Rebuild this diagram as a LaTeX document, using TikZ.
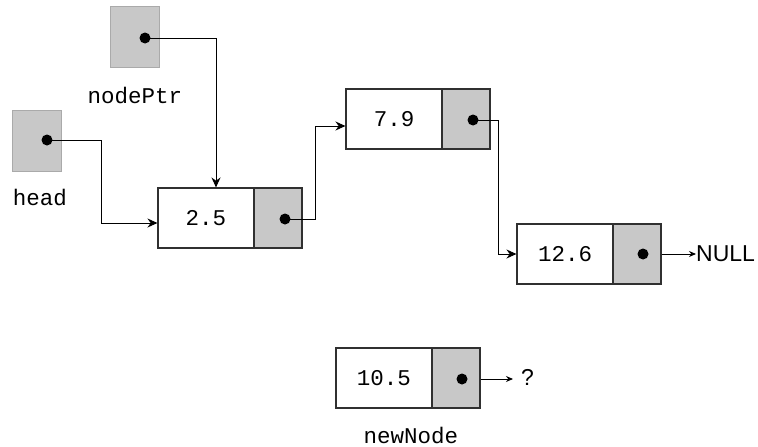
\documentclass[tikz,border=0pt]{standalone}
\usepackage{fontspec}
\setmonofont{Liberation Mono}
\newfontfamily\labsans{Liberation Sans}
\usetikzlibrary{arrows.meta}
\definecolor{cellgray}{HTML}{C8C8C8}
\definecolor{edgegray}{HTML}{303030}
\tikzset{
  datacell/.style={rectangle, draw=edgegray, line width=1.1pt, fill=white,
    minimum width=96pt, minimum height=60pt, inner sep=0pt,
    font=\ttfamily\fontsize{22.5}{22.5}\selectfont},
  linkcell/.style={rectangle, fill=cellgray, draw=edgegray, line width=1.1pt,
    minimum width=48pt, minimum height=60pt, inner sep=0pt},
  ptrcell/.style={rectangle, fill=cellgray, draw=cellgray!85!black, line width=0.6pt,
    minimum width=49pt, minimum height=61pt, inner sep=0pt},
  dotn/.style={circle, fill=black, minimum size=11pt, inner sep=0pt},
  varlabel/.style={font=\ttfamily\fontsize{22.5}{22.5}\selectfont, inner sep=0pt},
  sanslabel/.style={font=\labsans\fontsize{23}{23}\selectfont, inner sep=0pt},
  ptr/.style={line width=1pt, -{Stealth[length=10pt,width=9pt]}},
  ptrsmall/.style={line width=1pt, -{Stealth[length=7pt,width=6pt]}}
}
\begin{document}
\begin{tikzpicture}[x=1pt,y=-1pt]
\useasboundingbox (0,0) rectangle (758,447);
% pointer variables
\node[ptrcell] (ptrbox) at (134.5,36.5) {};
\node[dotn] (dp) at (145,38) {};
\node[varlabel] (lptr) at (135,95) {nodePtr};
\node[ptrcell] (headbox) at (36.5,140.5) {};
\node[dotn] (dh) at (47,140) {};
\node[varlabel] (lhead) at (40,197) {head};
% list nodes
\node[datacell] (n1) at (206,218) {2.5};
\node[linkcell] (n1p) at (278,218) {};
\node[dotn] (d1) at (285,219) {};
\node[datacell] (n2) at (394,119) {7.9};
\node[linkcell] (n2p) at (466,119) {};
\node[dotn] (d2) at (473,120) {};
\node[datacell] (n3) at (565,254) {12.6};
\node[linkcell] (n3p) at (637,254) {};
\node[dotn] (d3) at (643,254) {};
\node[sanslabel, anchor=west] (null) at (696,254) {NULL};
\node[datacell] (n4) at (384,378) {10.5};
\node[linkcell] (n4p) at (456,378) {};
\node[dotn] (d4) at (462,379) {};
\node[sanslabel, anchor=west] (q) at (521,377) {?};
\node[varlabel] (lnew) at (411,435) {newNode};
% connectors
\coordinate (k3) at (216,38);
\draw[ptr] (dp.center) -- (k3) -- (k3 |- n1.north);
\coordinate (k2) at (101,223);
\draw[ptr] (dh.center) -| (k2) -- (n1.west |- k2);
\coordinate (k1) at (315,126);
\draw[ptr] (d1.center) -| (k1) -- (n2.west |- k1);
\coordinate (k4) at (498,120);
\draw[ptr] (d2.center) -- (k4) |- (n3.west);
\draw[ptrsmall] (n3p.east) -- (null.west);
\coordinate (k5) at (513,379);
\draw[ptrsmall] (n4p.east |- d4) -- (k5);
\end{tikzpicture}
\end{document}
